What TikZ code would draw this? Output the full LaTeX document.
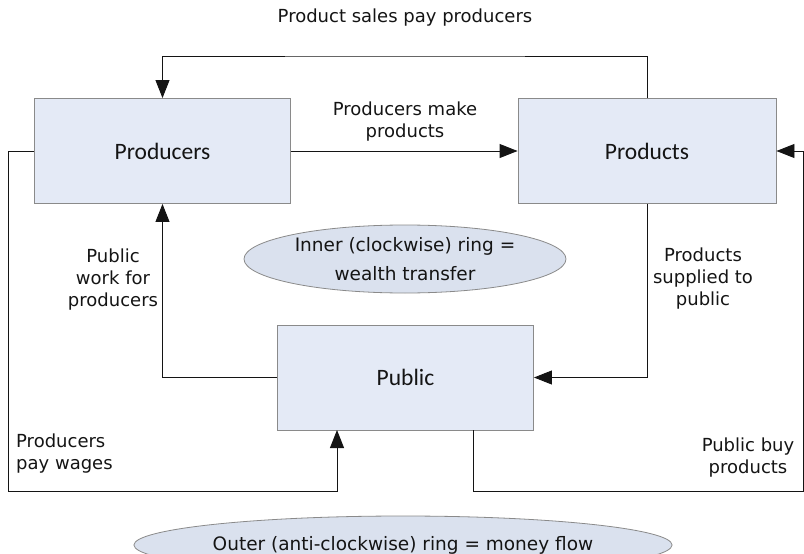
\documentclass[tikz,border=0pt]{standalone}
\usepackage{fontspec}
\setmainfont{DejaVu Sans}
\newfontfamily\boxfont{Carlito}
\usetikzlibrary{arrows.meta,shapes.geometric}

\definecolor{boxfill}{HTML}{E4EAF6}
\definecolor{ringfill}{HTML}{DAE1EE}
\definecolor{edgegray}{HTML}{8A8A8A}
\definecolor{ink}{HTML}{141414}

\tikzset{
  stage/.style={draw=edgegray, fill=boxfill, line width=0.9pt,
    minimum width=256pt, minimum height=105pt, inner sep=0pt,
    text=ink, font=\boxfont\fontsize{23.5}{28}\selectfont},
  ring/.style={ellipse, draw=edgegray, fill=ringfill, line width=0.8pt,
    inner sep=0pt, align=center, text=ink,
    font=\fontsize{18.5}{29}\selectfont},
  lbl/.style={text=ink, inner sep=0pt, font=\fontsize{18}{22}\selectfont},
  flow/.style={draw=ink, line width=0.9pt},
  arr/.style={flow, -{Triangle[length=18pt,width=14pt]}}
}

\begin{document}
\begin{tikzpicture}[x=1pt,y=-1pt]
  \useasboundingbox (0,0) rectangle (804,554);
  \clip (0,0) rectangle (804,554);

  % the three stages
  \node[stage] (producers) at (162.5,151) {Producers};
  \node[stage, minimum width=258pt] (products) at (647,151) {Products};
  \node[stage] (public) at (405.5,377.5) {Public};

  % the two rings
  \node[ring, minimum width=322pt, minimum height=68pt] (inner) at (405,259)
    {Inner (clockwise) ring =\\wealth transfer};
  \node[ring, minimum width=538pt, minimum height=58pt] (outer) at (403,545)
    {Outer (anti-clockwise) ring = money flow};

  % routing points
  \coordinate (topbar) at (405,56);
  \coordinate (wagecorner) at (8,491);
  \coordinate (wagein) at (337,430);
  \coordinate (buyout) at (473,430);
  \coordinate (buycorner) at (803,491);

  % inner ring: products flow clockwise
  \draw[arr] (producers.east) -- (products.west);
  \draw[arr] (products.south) |- (public.east);
  \draw[arr] (public.west) -| (producers.south);

  % outer ring: money flows anti-clockwise
  \draw[arr] (products.north) |- (topbar) -| (producers.north);
  \draw[arr] (producers.west) -| (wagecorner) -| (wagein);
  \draw[arr] (buyout) |- (buycorner) |- (products.east);

  % labels
  \node[lbl] (salesl) at (405,18) {Product sales pay producers};
  \node[lbl, align=center] (makel) at (405,122) {Producers make\\products};
  \node[lbl, align=center] (workl) at (113,280) {Public\\work for\\producers};
  \node[lbl, align=center] (supl) at (703,279) {Products\\supplied to\\public};
  \node[lbl, align=left, anchor=west] (wagel) at (16,454) {Producers\\pay wages};
  \node[lbl, align=center] (buyl) at (748,458) {Public buy\\products};
\end{tikzpicture}
\end{document}
